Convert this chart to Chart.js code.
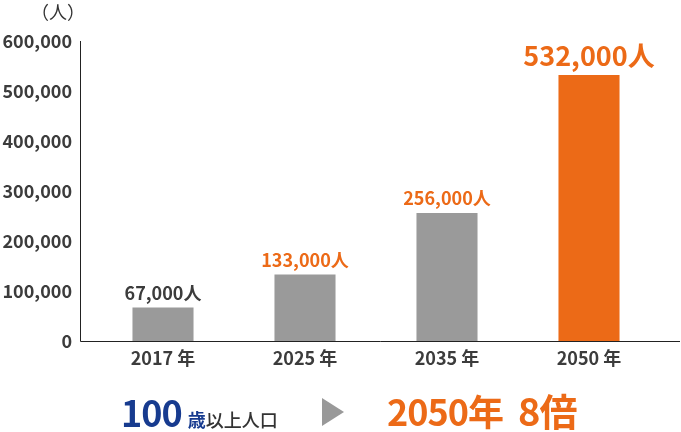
<!DOCTYPE html>
<html>
<head>
<meta charset="utf-8">
<script src="https://cdn.jsdelivr.net/npm/chart.js@4"></script>
<style>
  html, body { margin: 0; padding: 0; background: #fff; }
  #wrap { position: relative; width: 681px; height: 432px; font-family: "Noto Sans CJK JP", "Noto Sans", sans-serif; }
  canvas { position: absolute; left: 0; top: 0; }
  .t { position: absolute; white-space: nowrap; line-height: 1; }
  #unit { left: 31px; top: 2px; font-size: 18px; color: #333; }
  #cap1 { left: 121px; top: 393px; color: #173b8f; font-weight: 700; font-size: 36px; letter-spacing: -1px; }
  #cap1 .s { font-size: 18px; letter-spacing: 0; margin-left: 6px; }
  #cap1 .g { font-size: 18px; color: #333; font-weight: 500; letter-spacing: 0; }
  #arrow { position: absolute; left: 322px; top: 398px; width: 0; height: 0; border-top: 14px solid transparent; border-bottom: 14px solid transparent; border-left: 22px solid #999; }
  #cap2 { left: 387px; top: 391px; color: #ec6a17; font-weight: 700; font-size: 36px; letter-spacing: -1px; }
  #cap2 .b { font-size: 38px; margin-left: 15px; }
</style>
</head>
<body>
<div id="wrap">
  <canvas id="c" width="681" height="432"></canvas>
  <div class="t" id="unit">（人）</div>
  <div class="t" id="cap1">100<span class="s">歳</span><span class="g">以上人口</span></div>
  <div id="arrow"></div>
  <div class="t" id="cap2">2050年<span class="b">8倍</span></div>
</div>
<script>
const years = ['2017 年', '2025 年', '2035 年', '2050 年'];
const people = [67000, 133000, 256000, 532000];
const valueLabels = ['67,000人', '133,000人', '256,000人', '532,000人'];
const barColors = ['#9a9a9a', '#9a9a9a', '#9a9a9a', '#ec6a17'];
const labelColors = ['#3c3c3c', '#ec6a17', '#ec6a17', '#ec6a17'];
const labelSizes = [18, 18, 18, 27];

const FONT = '"Noto Sans CJK JP", "Noto Sans", sans-serif';
const TEXT = '#3c3c3c';

// axis lines: y line a bit left of the plot, baseline runs to the right edge
const axisLines = {
    id: 'axisLines',
    afterDatasetsDraw(chart) {
        const { ctx, chartArea, scales } = chart;
        const y0 = Math.round(scales.y.getPixelForValue(0)) + 0.5;
        const yTop = scales.y.getPixelForValue(600000);
        const xl = chartArea.left - 11.5;
        ctx.save();
        ctx.strokeStyle = '#222';
        ctx.lineWidth = 1;
        ctx.beginPath();
        ctx.moveTo(xl, yTop);
        ctx.lineTo(xl, y0);
        ctx.lineTo(chart.width - 1, y0);
        ctx.stroke();
        ctx.restore();
    }
};

// value labels above each bar
const barLabels = {
    id: 'barLabels',
    afterDatasetsDraw(chart) {
        const { ctx } = chart;
        const meta = chart.getDatasetMeta(0);
        ctx.save();
        ctx.textAlign = 'center';
        ctx.textBaseline = 'alphabetic';
        meta.data.forEach((bar, i) => {
            ctx.fillStyle = labelColors[i];
            ctx.font = 'bold ' + labelSizes[i] + 'px ' + FONT;
            ctx.fillText(valueLabels[i], bar.x, bar.y - (i === 3 ? 9 : 8));
        });
        ctx.restore();
    }
};

new Chart(document.getElementById('c'), {
    type: 'bar',
    data: {
        labels: years,
        datasets: [{
            data: people,
            backgroundColor: barColors,
            borderWidth: 0,
            barPercentage: 0.43,
            categoryPercentage: 1
        }]
    },
    options: {
        responsive: false,
        animation: false,
        layout: { padding: { top: 41, right: 21, left: 0, bottom: 0 } },
        plugins: { legend: { display: false }, tooltip: { enabled: false } },
        scales: {
            y: {
                min: 0,
                max: 600000,
                afterFit: s => { s.width = 92; },
                border: { display: false },
                grid: { display: false, drawTicks: false },
                ticks: {
                    stepSize: 100000,
                    padding: 20,
                    color: TEXT,
                    font: { family: FONT, size: 18, weight: 'bold' },
                    callback: v => v.toLocaleString('en-US')
                }
            },
            x: {
                afterFit: s => { s.height = 91; },
                border: { display: false },
                grid: { display: false, drawTicks: false },
                ticks: {
                    padding: 6,
                    color: TEXT,
                    font: { family: FONT, size: 18, weight: 'bold' }
                }
            }
        }
    },
    plugins: [axisLines, barLabels]
});
</script>
</body>
</html>
